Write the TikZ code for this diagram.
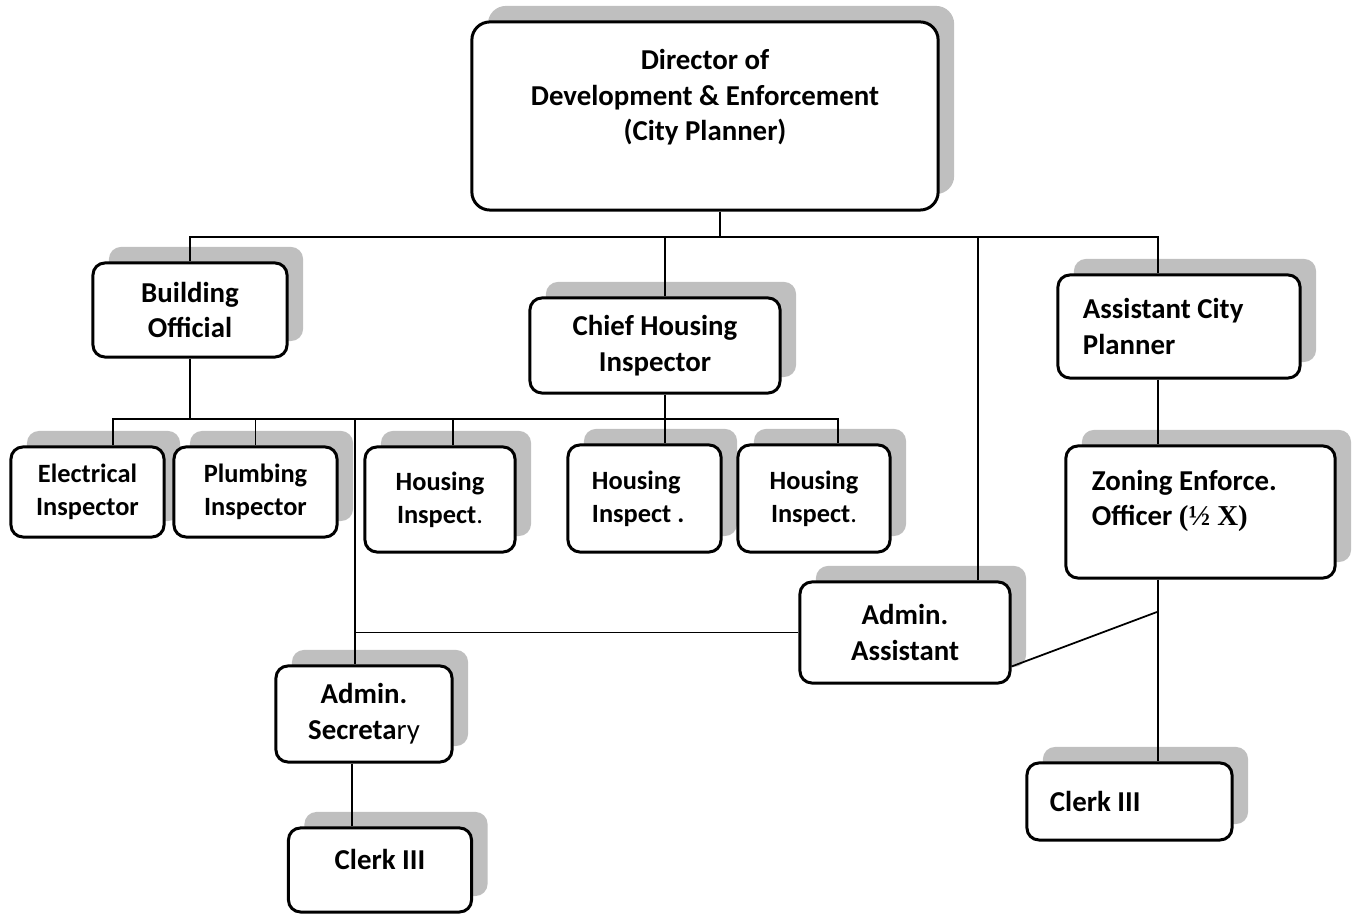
\documentclass[tikz,border=0pt]{standalone}
\usepackage{fontspec}
\setmainfont{Carlito}
\newfontfamily\timesfont{Liberation Serif}
\usetikzlibrary{shadows}
\definecolor{shadowgray}{RGB}{191,191,191}
\begin{document}
\begin{tikzpicture}[x=0.01cm,y=-0.01cm,
  post/.style={draw,line width=0.85pt,rounded corners=0.12cm,fill=white,align=center,inner sep=0pt,
    font=\fontsize{8.2}{10.2}\selectfont\bfseries,
    general shadow={fill=shadowgray,shadow xshift=0.16cm,shadow yshift=0.16cm}},
  small/.style={font=\fontsize{7.5}{9.4}\selectfont\bfseries},
  link/.style={line width=0.5pt}]
\useasboundingbox (0,0) rectangle (1353,919);
\node[post,minimum width=4.66cm,minimum height=1.88cm,rounded corners=0.18cm](dir) at (705,116){Director of\\Development \& Enforcement\\(City Planner)\\[1.8pt]~};
\node[post,minimum width=1.94cm,minimum height=0.94cm](bo) at (190,310){Building\\Official};
\node[post,minimum width=2.50cm,minimum height=0.95cm](chi) at (655,345.5){Chief Housing\\Inspector};
\node[post,small,minimum width=1.53cm,minimum height=0.90cm](ei) at (87.5,492){Electrical\\Inspector};
\node[post,small,minimum width=1.63cm,minimum height=0.90cm](pi) at (255.5,492){Plumbing\\Inspector};
\node[post,small,minimum width=1.50cm,minimum height=1.05cm](hi1) at (440,499.5){Housing\\Inspect{\mdseries .}};
\node[post,small,minimum width=1.53cm,minimum height=1.07cm,align=flush left,text width=1.05cm](hi2) at (644.5,498.5){Housing\\Inspect~.};
\node[post,small,minimum width=1.52cm,minimum height=1.07cm](hi3) at (814,498.5){Housing\\Inspect{\mdseries .}};
\node[post,minimum width=2.42cm,minimum height=1.03cm,align=flush left,text width=1.92cm](acp) at (1179,326.5){Assistant City\\Planner};
\node[post,minimum width=2.69cm,minimum height=1.32cm,align=flush left,text width=2.17cm](zo) at (1200.5,512){Zoning Enforce.\\Officer {\timesfont (½ X)}\\[-2.2pt]~};
\node[post,minimum width=2.10cm,minimum height=1.01cm](aa) at (905,632.5){Admin.\\Assistant};
\node[post,minimum width=1.76cm,minimum height=0.96cm](as) at (364,714){Admin.\\Secreta{\mdseries ry}};
\node[post,minimum width=1.83cm,minimum height=0.84cm](ck1) at (380,870){Clerk III\\[-4pt]~};
\node[post,minimum width=2.05cm,minimum height=0.77cm,align=flush left,text width=1.59cm](ck2) at (1129.5,801.5){Clerk III};
\coordinate (bus1) at (0,237);
\coordinate (bus2) at (0,419);
\coordinate (zj) at (1157,612);
\coordinate (dirout) at ([xshift=0.15cm]dir.south);
\coordinate (chix) at ([xshift=0.1cm]chi.north);
\coordinate (aax) at ([xshift=0.73cm]aa.north);
\coordinate (acpx) at ([xshift=-0.21cm]acp.north);
\coordinate (eix) at ([xshift=0.255cm]ei.north);
\coordinate (hi1x) at ([xshift=0.13cm]hi1.north);
\coordinate (hi3x) at ([xshift=0.24cm]hi3.north);
\coordinate (asx) at ([xshift=-0.09cm]as.north);
\coordinate (ckx) at ([xshift=-0.12cm]as.south);
\coordinate (aaout) at ([yshift=0.18cm]aa.south east);
\draw[link] (dirout) -- (dirout |- bus1);
\draw[link] (bo.north) -- (bo.north |- bus1) -- (acpx |- bus1) -- (acpx);
\draw[link] (chix) -- (chix |- bus1);
\draw[link] (aax) -- (aax |- bus1);
\draw[link] (bo.south) -- (bo.south |- bus2);
\draw[link] (eix) -- (eix |- bus2) -- (hi3x |- bus2) -- (hi3x);
\draw[link] (pi.north) -- (pi.north |- bus2);
\draw[link] (hi1x) -- (hi1x |- bus2);
\draw[link] (chix |- chi.south) -- (chix |- hi2.north);
\draw[link] (asx |- bus2) -- (asx);
\draw[link] (asx |- aa.west) -- (aa.west);
\draw[link] (ckx) -- (ckx |- ck1.north);
\draw[link] (acpx |- acp.south) -- (acpx |- zo.north);
\draw[link] (acpx |- zo.south) -- (acpx |- ck2.north);
\draw[link] (aaout) -- (zj);
\end{tikzpicture}
\end{document}
